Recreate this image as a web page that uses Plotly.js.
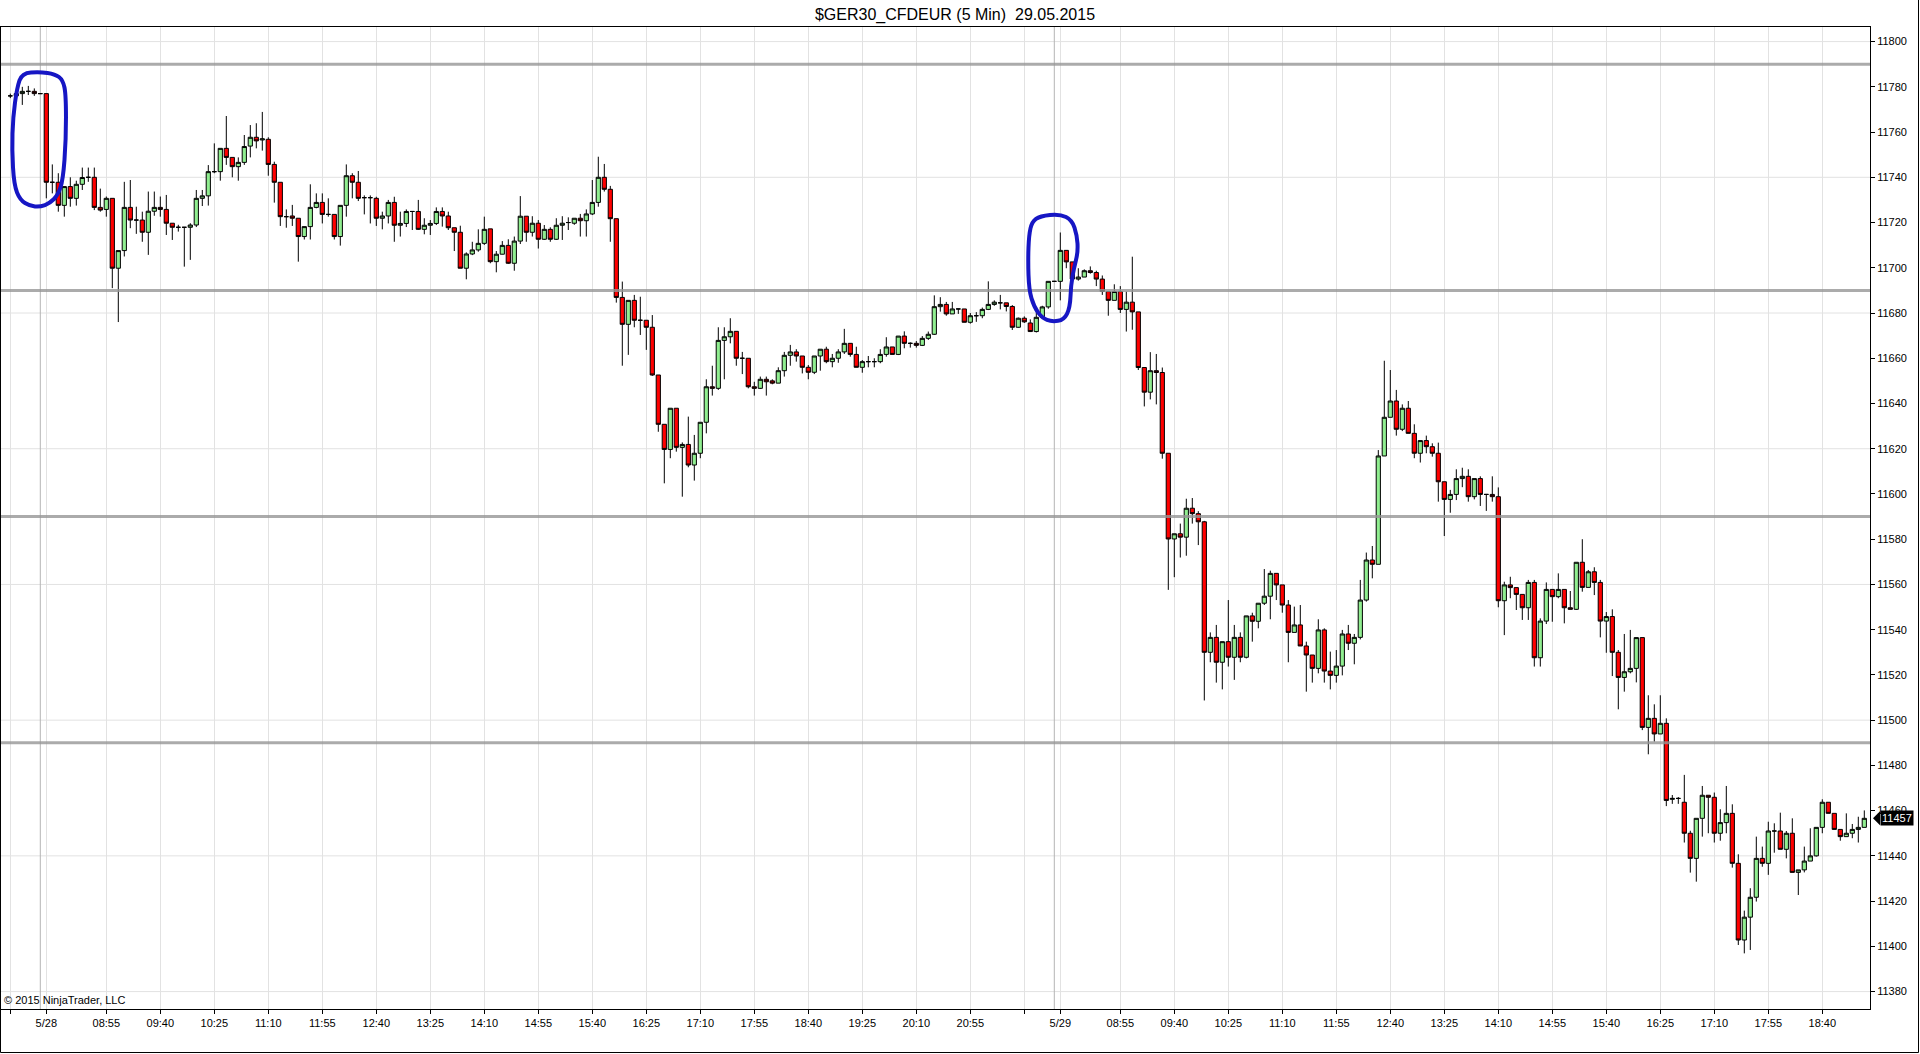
<!DOCTYPE html>
<html>
<head>
<meta charset="utf-8">
<script src="https://cdn.plot.ly/plotly-3.0.1.min.js"></script>
<style>
html,body{margin:0;padding:0;background:#fff;}
#chart{width:1920px;height:1054px;}
</style>
</head>
<body>
<div id="chart"></div>
<script>
// ---- data: $GER30_CFDEUR 5-minute bars, 28-29 May 2015 ----
const open = [
11776,11776,11777,11778,11778,11777,11777,11737.8,11737.8,11727.6,
11735.9,11730.7,11736.9,11740,11740,11726.7,11725.8,11730.7,11699.8,11707.6,
11726.7,11721.1,11721.1,11715.7,11725,11726.7,11725.8,11719.7,11717.9,11717.9,
11717.9,11718.9,11730.7,11731.8,11742.5,11742.5,11752.8,11748.8,11744.7,11746.6,
11753.8,11757.7,11756.5,11756.8,11745.7,11737.8,11722.6,11722.9,11721.9,11713.8,
11718.2,11726.7,11728.9,11723.6,11723.6,11713.8,11727.6,11740.7,11737.8,11731,
11731,11730.7,11721.9,11722.9,11728.9,11718.8,11719.6,11724.9,11724.9,11717,
11718.8,11719.6,11724.9,11722.9,11717.7,11715.7,11699.8,11706.1,11707.9,11710.8,
11717.2,11702.7,11706,11709.9,11702,11711.8,11722.8,11715.7,11719.7,11712.6,
11717,11712.6,11718.8,11720,11719.7,11721.9,11720.8,11723.8,11728.9,11740,
11734.7,11721.7,11686.9,11675,11685.6,11676.8,11676.8,11673.7,11652.6,11630.8,
11619.7,11637.9,11620.6,11621.9,11612.8,11618,11631.7,11647.4,11646.7,11667.9,
11669.5,11671.9,11660,11660,11647.4,11646.7,11650.7,11650,11649,11654.5,
11661.3,11662.8,11661,11656,11653.8,11661,11664,11658.5,11660,11662.8,
11666.6,11661.7,11656,11658.5,11658.5,11658.5,11661.7,11665,11661.7,11669.8,
11666.6,11666.6,11665.7,11668.8,11670.6,11682.8,11683.8,11679.6,11681.8,11681.8,
11675.9,11678.8,11678.8,11681.6,11683.8,11684.5,11684.5,11682.9,11673.7,11677.7,
11675.6,11671.8,11678.1,11682.7,11694,11694,11707.7,11702.6,11695,11695.9,
11698.7,11697.9,11695,11689.5,11685.6,11689.5,11681.6,11684.8,11680.5,11655.9,
11645,11654.5,11653.7,11618,11580.1,11582.4,11580.9,11593.7,11591.3,11587.7,
11530,11536.6,11525.6,11534.7,11527.8,11536.6,11527.8,11546.1,11543.7,11551.7,
11554.8,11564.9,11559.8,11550.9,11538.8,11542.1,11532.8,11528.8,11522.9,11539.9,
11521.7,11519.8,11523.9,11538.1,11534,11536.6,11553.1,11570.8,11568.9,11616.8,
11633.9,11641.1,11628.6,11637.9,11626.8,11618,11623.6,11620.9,11618,11605.4,
11597.6,11599.8,11606.8,11607.8,11598.8,11606.8,11599.8,11599.8,11598.8,11552.8,
11559.8,11558.6,11555.6,11549.7,11560.9,11527.6,11543.8,11557.8,11554.6,11557.8,
11549.7,11549,11569.8,11558.7,11565.6,11560.9,11543.8,11545.8,11530,11518.9,
11521.4,11522.9,11536.5,11496.8,11500.8,11493.9,11498.6,11465,11465.4,11463.7,
11450,11438.9,11456.6,11466.8,11465.9,11450,11454.7,11458.8,11436.7,11402.8,
11412.9,11421.7,11438.9,11436.7,11451,11451,11442.9,11450,11432.7,11433.8,
11437.7,11440,11452.6,11463.7,11458.8,11451.7,11448.5,11450,11451.7,11452.6
];
const high = [
11777,11777.5,11780,11780.4,11779.3,11777,11777,11745.7,11741.8,11736,
11740,11738.5,11744.3,11744.3,11744.3,11735,11731.5,11730.7,11707.6,11738,
11738.8,11727,11724.8,11733.7,11733.7,11731.5,11732.2,11719.7,11719,11718,
11719.7,11734.4,11734.4,11745.4,11755,11752.8,11767.1,11748.8,11748.8,11758.7,
11763.1,11763.9,11768.9,11757.7,11746.9,11737.8,11725.8,11727.8,11721.9,11718.2,
11736.9,11732.9,11732.9,11730.7,11723.6,11727.6,11745.7,11741.8,11742.8,11732,
11732,11731.4,11724.8,11730,11731.4,11724.8,11725.8,11725,11730,11721.9,
11721.1,11726.7,11726.7,11724.8,11717.7,11718.6,11706.8,11711.5,11717,11722.6,
11717.2,11707.4,11711.8,11712.6,11713.8,11731.7,11722.8,11722.8,11721.1,11718.9,
11717.9,11721.9,11722.8,11722.3,11721.9,11723.8,11725.8,11738.8,11749.1,11745.9,
11736.2,11721.7,11693.9,11685.6,11688,11687.2,11676.8,11679.1,11652.6,11630.8,
11637.9,11637.9,11622.8,11634.2,11626.1,11631.7,11650.7,11656.7,11673.7,11673.7,
11677.7,11671.9,11662.8,11660,11649.6,11651.9,11651.9,11650.7,11656,11662.8,
11665.9,11664,11661,11657,11661,11664,11665.1,11661.9,11664,11673,
11666.6,11665.1,11659.2,11661,11660,11664,11669.3,11665,11669.8,11671.9,
11667,11667.6,11669.8,11671.8,11687.8,11687,11684.9,11684.9,11681.8,11681.8,
11680,11680.4,11682.4,11694,11685.6,11688,11684.5,11683.5,11678,11678.5,
11677.2,11680.4,11683.2,11694,11694,11715.6,11707.7,11702.6,11699.8,11699.3,
11700.6,11698.7,11696.6,11689.5,11692.7,11691.9,11689.5,11704.9,11680.5,11655.9,
11662.7,11661.9,11655.9,11618,11582.4,11586.9,11597.9,11598.2,11592.4,11588.1,
11538.8,11542.1,11534.7,11553.1,11542.1,11538.8,11546.1,11547.5,11551.7,11566.8,
11566.1,11564.9,11559.8,11553.1,11550.2,11550.9,11534.7,11528.8,11544.6,11540.6,
11530.3,11531,11539.9,11542.1,11538.1,11562,11574.1,11577,11619.4,11658.9,
11654.8,11646,11639.6,11641.1,11630.8,11623.6,11625.8,11622.4,11622.7,11605.4,
11601.8,11610.9,11611.6,11610.9,11606.8,11607.8,11600,11607.8,11602.9,11561.2,
11563.4,11558.6,11555.6,11562,11562,11545,11560.9,11557.8,11564.9,11557.8,
11557.1,11569.8,11580,11566.4,11567.6,11562,11547.8,11549,11531,11538.1,
11539.9,11536.5,11536.5,11511,11507,11511,11500.8,11466.9,11466,11475.8,
11451.1,11456.6,11470.9,11466.8,11468,11460.6,11470.9,11462.8,11440.7,11415.8,
11425.7,11448.5,11444.1,11455.1,11454.4,11459.1,11451,11456.6,11433.8,11444.1,
11452.2,11452.6,11465,11463.7,11458.8,11451.7,11458.8,11454.1,11457.3,11460.1
];
const low = [
11775,11775.8,11772,11776.4,11776,11777,11730.7,11732.9,11724.8,11722.6,
11727,11727.5,11734.4,11738,11725.5,11724.8,11722.6,11691,11676,11705,
11717.5,11715,11711.5,11705.7,11723,11722.6,11714.5,11712.3,11716,11700.5,
11703.5,11718,11727.3,11727.5,11741.8,11738.5,11745.5,11740,11738.5,11745.5,
11748.8,11752.8,11751.8,11740.7,11728.8,11718.5,11717.7,11718.5,11702.7,11712.5,
11712.5,11726.3,11719.6,11722.6,11712.5,11709.8,11722.6,11730.7,11729.5,11723.6,
11719.6,11718.5,11717,11719.6,11711.5,11713.8,11718,11716.7,11716.7,11714.8,
11714.5,11718.9,11718.2,11716.7,11707.4,11699.8,11694.9,11705.6,11707.1,11710.1,
11702,11698,11705.9,11701.7,11698.7,11710.5,11711.5,11713.8,11708.5,11712.3,
11711.5,11712.3,11712.3,11716.7,11719,11713.8,11713.8,11723.3,11727,11733.7,
11711.5,11684.6,11656.7,11661.5,11673.7,11670.3,11663.7,11652.2,11627.5,11604.7,
11615.8,11618.7,11598.8,11611.8,11605.9,11615.8,11626.8,11643.5,11646,11650.7,
11666.6,11656.7,11653,11646.7,11643.5,11646.4,11643.5,11648.5,11649,11651.9,
11656.7,11658.5,11653.3,11650.7,11653,11654.5,11657.8,11656,11658,11661.9,
11660.7,11656,11653.6,11656,11656,11657.8,11660.7,11661.7,11661.4,11664.4,
11664.7,11664.7,11665.4,11668.1,11670.3,11680.6,11678.8,11679.6,11679.6,11675.9,
11675.3,11676.1,11677.7,11681.3,11683.2,11681.6,11680.7,11672.5,11673.5,11675.6,
11671.6,11671.4,11677.7,11681.9,11694,11685.6,11699.8,11695,11694.3,11695.9,
11697.4,11691.9,11688,11678.8,11685.6,11680,11671.8,11672.6,11654.8,11638.7,
11641.8,11639.6,11615.6,11557.6,11563.2,11571.9,11572.7,11586.9,11577.4,11508.7,
11525.6,11516.6,11513.6,11523.7,11517.8,11525.6,11527.3,11534.7,11540.6,11550.9,
11544.6,11553.1,11547.5,11525.6,11538.8,11532.8,11512.6,11516.6,11520.7,11516.6,
11513.6,11516.6,11519.8,11531,11524.7,11535.7,11552.4,11562.7,11568.9,11616.8,
11633.9,11625.8,11627.8,11626.8,11615.8,11613.9,11618,11616.5,11596.6,11581.4,
11591.7,11597.3,11603,11596.6,11597.6,11594.7,11592.5,11596.6,11549.9,11537.6,
11553.9,11548.7,11544.3,11544.3,11523.7,11523.7,11542.5,11543.5,11553.9,11542.8,
11549,11548.7,11556.8,11558.7,11555.3,11536.6,11529.8,11519.5,11504.8,11512.6,
11520.7,11516.7,11495.6,11484.9,11490.5,11493.9,11462,11463,11463,11445.9,
11432.6,11428.6,11448.5,11450,11445.9,11446.7,11450,11434.8,11400.6,11396.9,
11398.4,11419.8,11435.2,11431.6,11441.4,11442.9,11438.9,11432.7,11422.7,11432.7,
11437.7,11439.7,11450,11458.8,11451.7,11446.7,11448.5,11447.8,11445.9,11452.6
];
const close = [
11776,11777,11778,11778,11777,11777,11737.8,11737.8,11727.6,11735.9,
11730.7,11736.9,11739.9,11740,11726.7,11725.5,11730.7,11699.8,11707.6,11726.7,
11721.1,11721.1,11715.7,11725,11726.7,11725.8,11719.7,11717.9,11717.9,11717.9,
11718.9,11730.7,11731.8,11742.5,11742.5,11752.8,11748.8,11744.7,11746.6,11753.6,
11757.7,11756.1,11757,11745.7,11737.8,11722.6,11722.6,11721.9,11713.8,11718.2,
11726.7,11728.9,11723.6,11723.6,11713.8,11727.6,11740.7,11737.8,11730.7,11731,
11731,11721.9,11722.9,11728.9,11718.8,11719.6,11724.9,11724.9,11717,11718.8,
11719.6,11724.9,11722.9,11717.7,11715.7,11699.8,11706.1,11707.9,11710.8,11717,
11702.7,11706,11709.9,11702,11711.8,11722.8,11715.7,11719.7,11712.6,11717,
11712.6,11718.8,11719.7,11720,11721.9,11720.8,11723.8,11728.9,11740,11734.7,
11721.7,11686.9,11675,11685.6,11676.8,11676.8,11673.7,11652.6,11630.8,11619.7,
11637.9,11620.6,11621.9,11612.8,11618,11631.7,11647.4,11646.7,11667.9,11669.5,
11671.9,11660,11660,11647.4,11646.7,11650.7,11649.6,11649,11654.5,11661.3,
11662.8,11661,11656,11653.8,11661,11664,11658.5,11660,11662.8,11666.6,
11661.7,11656,11658.5,11658.5,11658.5,11661.7,11665,11661.7,11669.8,11666.6,
11666.6,11665.7,11668.8,11670.6,11682.8,11683.8,11679.6,11681.8,11681.8,11675.9,
11678.8,11678.8,11681.6,11683.8,11684.8,11684.5,11682.9,11673.7,11677.7,11676.1,
11671.8,11678.1,11682.7,11694,11694,11707.7,11702.6,11695,11695.9,11698.7,
11697.9,11695,11689.5,11685.6,11689.5,11681.6,11684.8,11680.5,11655.9,11645,
11654.5,11653.7,11618,11580.1,11582.4,11580.9,11593.7,11591.3,11587.7,11530,
11536.6,11525.6,11534.7,11527.8,11536.6,11527.8,11546.1,11543.7,11551.7,11554.8,
11564.9,11559.8,11550.9,11538.8,11542.1,11532.8,11528.8,11522.9,11539.9,11521.7,
11519.8,11523.9,11538.1,11534,11536.6,11553.1,11570.8,11568.9,11616.8,11633.9,
11641.1,11628.6,11637.9,11626.8,11618,11623.6,11620.9,11618,11605.4,11597.6,
11599.8,11606.8,11607.8,11598.8,11606.8,11599.8,11599.8,11598.8,11552.8,11559.8,
11558.6,11555.6,11549.7,11560.9,11527.6,11543.8,11557.8,11554.6,11557.8,11549.7,
11549,11569.8,11558.7,11565.6,11560.9,11543.8,11545.8,11530,11518.9,11521.4,
11522.9,11536.5,11496.8,11500.8,11493.9,11498.6,11464.5,11465.4,11465.4,11450,
11438.9,11456.6,11466.8,11465.9,11450,11454.7,11458.8,11436.7,11402.8,11412.9,
11421.7,11438.9,11436.7,11451,11451,11442.9,11450,11432.7,11433.8,11437.7,
11440,11452.6,11463.7,11458.8,11451.7,11448.5,11450,11451.7,11452.6,11456.6
];

// x-axis: bar index of each labelled tick, and the labels
const tickPos = [0,6,16,25,34,43,52,61,70,79,88,97,106,115,124,133,142,151,160,169,
                 175,185,194,203,212,221,230,239,248,257,266,275,284,293,302];
const tickText = ['','5/28','08:55','09:40','10:25','11:10','11:55','12:40','13:25','14:10','14:55',
                  '15:40','16:25','17:10','17:55','18:40','19:25','20:10','20:55','',
                  '5/29','08:55','09:40','10:25','11:10','11:55','12:40','13:25','14:10','14:55',
                  '15:40','16:25','17:10','17:55','18:40'];
const sessionBreaks = [5, 174];               // bar index where a new day starts
const levelLines = [11790, 11690, 11590, 11490]; // drawn horizontal levels
const gridLevels = [11380, 11440, 11500, 11560, 11620, 11680, 11740, 11800];

// hand-drawn blue loops (bar index, price)
const loopA_x = [1.95,4.95,7.45,8.78,9.28,9.28,8.78,7.95,6.62,4.95,3.28,1.62,0.62,0.28,0.45,1.12];
const loopA_y = [11786.1,11786.6,11785.7,11783.0,11776.4,11756.5,11738.8,11732.2,11728.6,11726.9,11727.3,11730.0,11736.6,11752.1,11766.6,11779.5];
const loopB_x = [171.62,174.95,176.95,177.78,177.95,177.28,176.78,176.62,175.62,173.62,171.95,170.62,169.78,169.62,169.78,170.28];
const loopB_y = [11722.9,11723.8,11721.1,11714.5,11707.0,11699.9,11692.4,11682.3,11677.0,11676.1,11677.8,11682.7,11690.2,11703.5,11714.5,11720.3];

// ---- build ----
const barIndex = open.map((_, i) => i);
const FONT = 'Liberation Sans, Arial, sans-serif';

function smoothLoop(xs, ys) {
  const n = xs.length;
  const mid = (i, j) => [(xs[i] + xs[j]) / 2, (ys[i] + ys[j]) / 2];
  let m = mid(n - 1, 0);
  let d = 'M ' + m[0] + ',' + m[1];
  for (let i = 0; i < n; i++) {
    const j = (i + 1) % n;
    const q = mid(i, j);
    d += ' Q ' + xs[i] + ',' + ys[i] + ' ' + q[0] + ',' + q[1];
  }
  return d + ' Z';
}

const trace = {
  type: 'candlestick',
  x: barIndex,
  open: open, high: high, low: low, close: close,
  increasing: {line: {color: '#000000', width: 1}, fillcolor: '#90EE90'},
  decreasing: {line: {color: '#000000', width: 1}, fillcolor: '#FF0000'},
  whiskerwidth: 0,
  hoverinfo: 'skip',
  showlegend: false
};

const shapes = [];
gridLevels.forEach(v => shapes.push({
  type: 'line', xref: 'paper', x0: 0, x1: 1, yref: 'y', y0: v, y1: v,
  line: {color: '#e2e2e2', width: 1}, layer: 'below'
}));
sessionBreaks.forEach(b => shapes.push({
  type: 'line', xref: 'x', x0: b, x1: b, yref: 'paper', y0: 0, y1: 1,
  line: {color: '#b4b4b4', width: 1}, layer: 'below'
}));
levelLines.forEach(v => shapes.push({
  type: 'line', xref: 'paper', x0: 0, x1: 1, yref: 'y', y0: v, y1: v,
  line: {color: 'rgba(150,150,150,0.8)', width: 3}, layer: 'above'
}));
[[loopA_x, loopA_y], [loopB_x, loopB_y]].forEach(l => shapes.push({
  type: 'path', xref: 'x', yref: 'y', path: smoothLoop(l[0], l[1]),
  line: {color: 'rgb(22,22,196)', width: 4}, fillcolor: 'rgba(0,0,0,0)', layer: 'above'
}));
// outer frame (right, bottom, left) of the picture
const pxX = p => (p - 1) / 1869;
const pxY = p => (1009 - p) / 982;
shapes.push({type:'line', xref:'paper', yref:'paper', x0:pxX(1918.5), x1:pxX(1918.5), y0:pxY(0), y1:pxY(1052.5), line:{color:'#000', width:1}});
shapes.push({type:'line', xref:'paper', yref:'paper', x0:pxX(0.5), x1:pxX(1918.5), y0:pxY(1052.5), y1:pxY(1052.5), line:{color:'#000', width:1}});
shapes.push({type:'line', xref:'paper', yref:'paper', x0:pxX(0.5), x1:pxX(0.5), y0:pxY(1052.5), y1:pxY(27), line:{color:'#000', width:1}});

// last price marker
const lastClose = close[close.length - 1];
shapes.push({
  type: 'path', xref: 'paper', yref: 'y', xsizemode: 'pixel', ysizemode: 'pixel',
  xanchor: 1, yanchor: lastClose, path: 'M 3,0 L 10,7 L 10,-7 Z',
  fillcolor: '#000', line: {width: 0}, layer: 'above'
});

const annotations = [
  {xref: 'paper', yref: 'y', x: pxX(1880), y: lastClose, xanchor: 'left', yanchor: 'middle',
   text: String(Math.round(lastClose)), showarrow: false, bgcolor: '#000', borderpad: 1,
   font: {family: FONT, size: 11, color: '#fff'}},
  {xref: 'paper', yref: 'paper', x: pxX(2), y: 0, xanchor: 'left', yanchor: 'bottom', yshift: 1,
   text: '© 2015 NinjaTrader, LLC', showarrow: false,
   font: {family: FONT, size: 11, color: '#000'}}
];

const layout = {
  width: 1920, height: 1054,
  margin: {l: 1, r: 50, t: 27, b: 45, pad: 0},
  paper_bgcolor: '#ffffff', plot_bgcolor: '#ffffff',
  font: {family: FONT, size: 11, color: '#000'},
  title: {text: '$GER30_CFDEUR (5 Min)  29.05.2015', xref: 'container', x: 0.4974, xanchor: 'center',
          yref: 'container', y: 1 - 14.7 / 1054, yanchor: 'middle',
          font: {family: FONT, size: 16, color: '#000'}},
  showlegend: false,
  boxgap: 0.3, boxgroupgap: 0,
  xaxis: {
    type: 'linear', range: [-1.55, 309.95], tickmode: 'array', tickvals: tickPos, ticktext: tickText,
    ticks: 'outside', ticklen: 4, tickcolor: '#000', tickwidth: 1,
    showgrid: true, gridcolor: '#e2e2e2', gridwidth: 1,
    showline: true, linecolor: '#000', linewidth: 1, mirror: true, zeroline: false,
    rangeslider: {visible: false}, tickfont: {family: FONT, size: 11, color: '#000'}, fixedrange: true
  },
  yaxis: {
    side: 'right', range: [11372.3, 11806.45], tickmode: 'linear', tick0: 11380, dtick: 20,
    tickformat: 'd', ticks: 'outside', ticklen: 4, tickcolor: '#000', tickwidth: 1,
    showgrid: false, showline: true, linecolor: '#000', linewidth: 1, mirror: true, zeroline: false,
    tickfont: {family: FONT, size: 11, color: '#000'}, fixedrange: true
  },
  shapes: shapes,
  annotations: annotations
};

Plotly.newPlot('chart', [trace], layout, {staticPlot: true, displayModeBar: false});
</script>
</body>
</html>
